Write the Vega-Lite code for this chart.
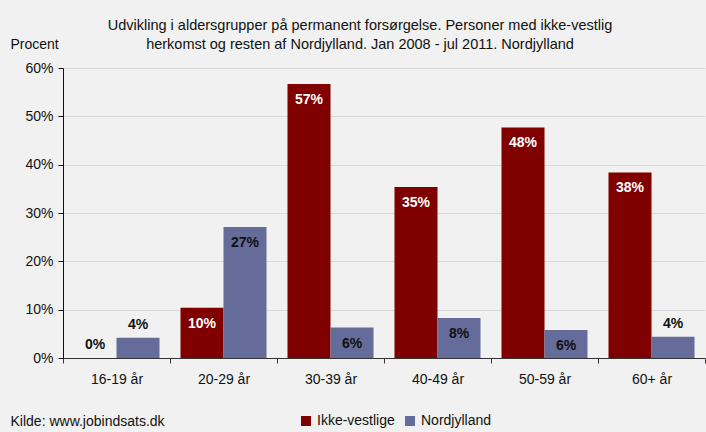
{
  "$schema": "https://vega.github.io/schema/vega-lite/v6.json",
  "width": 642,
  "height": 290,
  "autosize": "none",
  "padding": {"left": 63, "top": 68, "right": 1, "bottom": 74},
  "background": "#F0F1F0",
  "config": {
    "font": "Liberation Sans",
    "view": {"stroke": null},
    "axis": {"labelFont": "Liberation Sans", "titleFont": "Liberation Sans", "labelColor": "#111", "titleColor": "#111"}
  },
  "title": {
    "text": ["Udvikling i aldersgrupper på permanent forsørgelse. Personer med ikke-vestlig", "herkomst og resten af Nordjylland. Jan 2008 - jul 2011. Nordjylland"],
    "anchor": "middle",
    "frame": "group",
    "dx": -24,
    "offset": -15,
    "fontSize": 14.5,
    "fontWeight": "normal",
    "font": "Liberation Sans",
    "color": "#111",
    "lineHeight": 19
  },
  "data": {
    "values": [
      {"age": "16-19 år", "group": "Ikke-vestlige", "value": 0.0},
      {"age": "16-19 år", "group": "Nordjylland", "value": 0.042},
      {"age": "20-29 år", "group": "Ikke-vestlige", "value": 0.104},
      {"age": "20-29 år", "group": "Nordjylland", "value": 0.271},
      {"age": "30-39 år", "group": "Ikke-vestlige", "value": 0.567},
      {"age": "30-39 år", "group": "Nordjylland", "value": 0.063},
      {"age": "40-49 år", "group": "Ikke-vestlige", "value": 0.354},
      {"age": "40-49 år", "group": "Nordjylland", "value": 0.083},
      {"age": "50-59 år", "group": "Ikke-vestlige", "value": 0.477},
      {"age": "50-59 år", "group": "Nordjylland", "value": 0.058},
      {"age": "60+ år", "group": "Ikke-vestlige", "value": 0.384},
      {"age": "60+ år", "group": "Nordjylland", "value": 0.044}
    ]
  },
  "encoding": {
    "x": {
      "field": "age",
      "type": "nominal",
      "sort": null,
      "scale": {"paddingInner": 0, "paddingOuter": 0},
      "axis": {
        "labelAngle": 0,
        "tickBand": "extent",
        "domainColor": "#333",
        "tickColor": "#333",
        "tickSize": 5,
        "labelPadding": 9,
        "labelFontSize": 14,
        "grid": false,
        "title": "Kilde: www.jobindsats.dk",
        "titleX": -53,
        "titleY": 63,
        "titleAlign": "left",
        "titleBaseline": "middle",
        "titleFontSize": 14,
        "titleFontWeight": "normal"
      }
    },
    "xOffset": {
      "field": "group",
      "type": "nominal",
      "scale": {"domain": ["Ikke-vestlige", "Nordjylland"], "paddingInner": 0, "paddingOuter": 0.244}
    },
    "y": {
      "field": "value",
      "type": "quantitative",
      "scale": {"domain": [0, 0.6], "nice": false},
      "axis": {
        "values": [0, 0.1, 0.2, 0.3, 0.4, 0.5, 0.6],
        "format": ".0%",
        "domainColor": "#111",
        "tickColor": "#111",
        "tickSize": 5,
        "labelPadding": 5,
        "labelFontSize": 14,
        "gridColor": "#D9D9D9",
        "title": "Procent",
        "titleAngle": 0,
        "titleAlign": "left",
        "titleBaseline": "middle",
        "titleX": -53,
        "titleY": -24,
        "titleFontSize": 14,
        "titleFontWeight": "normal"
      }
    }
  },
  "layer": [
    {
      "mark": {"type": "bar"},
      "encoding": {
        "color": {
          "field": "group",
          "type": "nominal",
          "scale": {"domain": ["Ikke-vestlige", "Nordjylland"], "range": ["#800000", "#656C9A"]},
          "legend": {
            "title": null,
            "orient": "none",
            "direction": "horizontal",
            "legendX": 236,
            "legendY": 346,
            "symbolType": "square",
            "symbolSize": 100,
            "symbolStrokeWidth": 0,
            "labelFontSize": 14,
            "labelFont": "Liberation Sans",
            "labelColor": "#111",
            "labelOffset": 4,
            "columnPadding": 8
          }
        }
      }
    },
    {
      "transform": [{"filter": "datum.value >= 0.05"}],
      "mark": {"type": "text", "baseline": "middle", "dy": 16, "fontWeight": "bold", "fontSize": 14, "font": "Liberation Sans"},
      "encoding": {
        "text": {"field": "value", "type": "quantitative", "format": ".0%"},
        "color": {"condition": {"test": "datum.group === 'Ikke-vestlige'", "value": "white"}, "value": "#111"}
      }
    },
    {
      "transform": [{"filter": "datum.value < 0.05"}],
      "mark": {"type": "text", "baseline": "middle", "dy": -13, "fontWeight": "bold", "fontSize": 14, "font": "Liberation Sans", "color": "#111"},
      "encoding": {
        "text": {"field": "value", "type": "quantitative", "format": ".0%"}
      }
    }
  ]
}
